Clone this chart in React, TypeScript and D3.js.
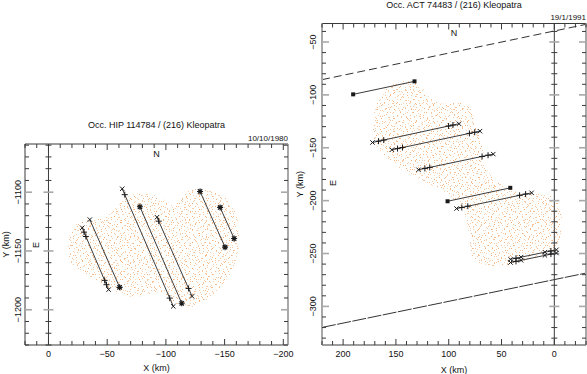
import React from "react";
import * as d3 from "d3";

const W = 587;
const H = 374;

// ---------- Left panel (1980) ----------
const leftTitle = "Occ. HIP 114784 / (216) Kleopatra";
const leftDate = "10/10/1980";
const leftXDomain = [20, -204];
const leftYDomain = [-1230, -1059];
const leftXTicks = [0, -50, -100, -150, -200];
const leftYTicks = [-1100, -1150, -1200];
const leftShapeX = [-16.7, -21, -32.4, -46.6, -58, -66.6, -77.9, -92.2, -103.5, -106.3, -114.8, -126.3, -137.6, -149, -157.5, -161.8, -161.8, -157.5, -149, -137.6, -126.3, -114.8, -106.3, -97.5, -86.4, -80.7, -66.6, -55.1, -41, -26.7, -18.2];
const leftShapeY = [-1148.2, -1129.8, -1124.1, -1121.3, -1112.8, -1104.3, -1100.9, -1102.8, -1109.9, -1112.8, -1101.4, -1097.1, -1098.6, -1102.8, -1112.8, -1126.9, -1146.8, -1163.9, -1178, -1189.4, -1196.5, -1198, -1195.1, -1185.4, -1186.3, -1188, -1188.8, -1183.7, -1175.2, -1166.7, -1158.2];
const leftChords = [
  { x1: -28.7, y1: -1130.3, x2: -51.2, y2: -1182.9, marks: [[0, "x"], [0.07, "+"], [0.14, "+"], [0.85, "+"], [0.92, "+"], [1, "x"]] },
  { x1: -35.2, y1: -1123.3, x2: -60.6, y2: -1180.9, marks: [[0, "x"], [1, "*"]] },
  { x1: -62.8, y1: -1097.1, x2: -106.3, y2: -1197.1, marks: [[0, "x"], [0.05, "+"], [0.93, "+"], [1, "x"]] },
  { x1: -77.9, y1: -1112.4, x2: -113.5, y2: -1194.5, marks: [[0, "*"], [1, "*"]] },
  { x1: -92.4, y1: -1121.3, x2: -122.3, y2: -1188.6, marks: [[0, "x"], [0.05, "+"], [0.9, "+"], [1, "x"]] },
  { x1: -129.1, y1: -1099.4, x2: -150.4, y2: -1146.8, marks: [[0, "*"], [1, "*"]] },
  { x1: -146.2, y1: -1113, x2: -158.1, y2: -1139.4, marks: [[0, "*"], [1, "*"]] },
];

// ---------- Right panel (1991) ----------
const rightTitle = "Occ. ACT 74483 / (216) Kleopatra";
const rightDate = "19/1/1991";
const rightXDomain = [220, -30];
const rightYDomain = [-336.5, -32.5];
const rightXTicks = [200, 150, 100, 50, 0];
const rightYTicks = [-50, -100, -150, -200, -250, -300];
const rightShapeX = [134.6, 146.9, 159.5, 169, 171.6, 169, 156.4, 137.4, 118.5, 102.7, 90, 83.7, 80.6, 77.4, 68, 49, 17.3, -1.6, -7.3, -4.7, 4.7, 23.7, 39.5, 55.3, 64.7, 67.9, 74.2, 80.6, 90, 105.9, 118.5, 128];
const rightShapeY = [-86.3, -88.2, -93.8, -111.6, -133.6, -146.2, -162, -174.6, -184.1, -193.6, -203, -215.7, -234.7, -253.6, -259.8, -261.5, -253.6, -244.1, -218.8, -203, -195.2, -193.6, -190.4, -181, -168.4, -149.4, -127.3, -111.6, -106.8, -108.3, -102.1, -89.4];
const rightChords = [
  { x1: 190.5, y1: -99.5, x2: 132.4, y2: -87.2, marks: [[0, "s"], [1, "s"]] },
  { x1: 172.2, y1: -145, x2: 90.3, y2: -127.3, marks: [[0, "x"], [0.07, "+"], [0.13, "+"], [0.88, "+"], [0.93, "+"], [1, "x"]] },
  { x1: 153.8, y1: -151.9, x2: 70.4, y2: -134.3, marks: [[0, "x"], [0.064, "+"], [0.12, "+"], [0.88, "+"], [0.94, "+"], [1, "x"]] },
  { x1: 128.6, y1: -170.8, x2: 57.8, y2: -156, marks: [[0, "x"], [0.085, "+"], [0.15, "+"], [0.85, "+"], [0.93, "+"], [1, "x"]] },
  { x1: 101.1, y1: -200.6, x2: 41.7, y2: -187.9, marks: [[0, "s"], [1, "s"]] },
  { x1: 92.6, y1: -207.5, x2: 21.5, y2: -192.6, marks: [[0, "x"], [0.07, "+"], [0.15, "+"], [0.84, "+"], [0.92, "+"], [1, "x"]] },
  { x1: 41.5, y1: -255.5, x2: -2, y2: -246.5, marks: [[0, "x"], [0.12, "+"], [0.23, "x"], [0.75, "x"], [0.88, "+"], [1, "x"]] },
  { x1: 41.5, y1: -258.5, x2: -2, y2: -249.5, marks: [[0, "x"], [0.12, "+"], [0.23, "x"], [0.75, "x"], [0.88, "+"], [1, "x"]] },
];
const rightLimitLines = [
  { x1: 220, y1: -85.6, x2: -30, y2: -33.3, dash: "8,4" },
  { x1: 220, y1: -319.9, x2: -30, y2: -268.5, dash: "14,1.5" },
];

const FONT = "Liberation Sans, Arial, sans-serif";
const DOT = "#f4a05c";
const INK = "#111";

// texture tiles (style only)
const tileA = [[0, 3, 0.7], [2, 9, 0.5], [4, 1, 0.8], [5, 6, 0.45], [7, 11, 0.7], [8, 4, 0.55], [10, 8, 0.8], [11, 0, 0.5], [12, 5, 0.65], [3, 12, 0.55]];
const tileB = [[1, 1, 0.6], [3, 7, 0.75], [6, 14, 0.5], [8, 2, 0.7], [9, 9, 0.45], [12, 12, 0.7], [14, 5, 0.55], [15, 15, 0.6], [2, 16, 0.7], [11, 7, 0.5], [16, 10, 0.65], [5, 4, 0.5]];
const tileC = [[2, 2, 0.6], [6, 13, 0.7], [9, 5, 0.5], [13, 17, 0.65], [16, 8, 0.7], [4, 8, 0.5], [11, 11, 0.6], [17, 1, 0.55], [0, 15, 0.6], [14, 14, 0.5]];

function Marker({ x, y, type }: { x: number; y: number; type: string }) {
  const s = 2.2;
  if (type === "s") return <rect x={x - 2} y={y - 2} width={4} height={4} fill="#1a1a1a" />;
  let d = "";
  if (type === "x" || type === "*") d += `M${x - s},${y - s}L${x + s},${y + s}M${x - s},${y + s}L${x + s},${y - s}`;
  if (type === "+" || type === "*") d += `M${x - 3},${y}L${x + 3},${y}M${x},${y - 3}L${x},${y + 3}`;
  return <path d={d} stroke="#1a1a1a" strokeWidth={type === "*" ? 1.2 : 1} fill="none" />;
}

function Panel(props: any) {
  const { xDomain, yDomain, box, xTicks, yTicks, shapeX, shapeY, chords, lines, title, date, titleY, dateY, nY, eX, eY, ylabX, ytickX, greyLeft, greyRight, xlabY, id } = props;
  const x = d3.scaleLinear().domain(xDomain).range([box.l, box.r]);
  const y = d3.scaleLinear().domain(yDomain).range([box.b, box.t]);
  const xMin = Math.min(...xDomain), xMax = Math.max(...xDomain);
  const yMin = Math.min(...yDomain), yMax = Math.max(...yDomain);
  const xMinor = d3.range(Math.ceil(xMin / 10) * 10, xMax + 0.01, 10);
  const yMinor = d3.range(Math.ceil(yMin / 10) * 10, yMax + 0.01, 10);
  const shape = d3.line<number>().x((_, i) => x(shapeX[i])).y((_, i) => y(shapeY[i])).curve(d3.curveCatmullRomClosed.alpha(0.5));
  const pathD = shape(shapeX) as string;
  const cx = (box.l + box.r) / 2;
  const tick = "#3a3a3a";
  const grey = "#a8a8a8";
  const isMajor = (v: number) => Math.abs(v % 50) < 1e-6;
  return (
    <g>
      <defs>
        <clipPath id={`clip-${id}`}>
          <rect x={box.l} y={box.t} width={box.r - box.l} height={box.b - box.t} />
        </clipPath>
      </defs>
      <g clipPath={`url(#clip-${id})`}>
        <path d={pathD} fill="url(#dotsA)" />
        <path d={pathD} fill="url(#dotsB)" />
        <path d={pathD} fill="url(#dotsC)" />
        {lines &&
          lines.map((l: any, i: number) => (
            <line key={i} x1={x(l.x1)} y1={y(l.y1)} x2={x(l.x2)} y2={y(l.y2)} stroke="#333" strokeWidth={1} strokeDasharray={l.dash} />
          ))}
      </g>
      {/* frame */}
      <line x1={box.l} x2={box.r} y1={box.t} y2={box.t} stroke={tick} />
      <line x1={box.l} x2={box.r} y1={box.b} y2={box.b} stroke={tick} />
      <line x1={box.l} x2={box.l} y1={box.t} y2={box.b} stroke={greyLeft ? grey : tick} strokeWidth={greyLeft ? 2 : 1} />
      <line x1={box.r} x2={box.r} y1={box.t} y2={box.b} stroke={greyRight ? grey : tick} strokeWidth={greyRight ? 2 : 1} />
      {/* x = 0 line */}
      <line x1={x(0)} x2={x(0)} y1={box.t} y2={box.b} stroke={tick} />
      {xMinor.map((v) => {
        const m = isMajor(v);
        const L = m ? 6 : 4;
        return (
          <g key={`xt${v}`}>
            <line x1={x(v)} x2={x(v)} y1={box.t} y2={box.t + L} stroke={tick} />
            <line x1={x(v)} x2={x(v)} y1={box.b} y2={box.b - L} stroke={tick} />
          </g>
        );
      })}
      {yMinor.map((v) => {
        const m = isMajor(v);
        const L = m ? 7 : 4;
        const c = m ? grey : tick;
        const w = m ? 1.6 : 1;
        return (
          <g key={`yt${v}`}>
            <line x1={box.l} x2={box.l + L} y1={y(v)} y2={y(v)} stroke={c} strokeWidth={w} />
            <line x1={box.r} x2={box.r - L} y1={y(v)} y2={y(v)} stroke={c} strokeWidth={w} />
            <line x1={x(0) - (m ? 5 : 3)} x2={x(0) + (m ? 5 : 3)} y1={y(v)} y2={y(v)} stroke={m ? grey : tick} strokeWidth={w} />
          </g>
        );
      })}
      {/* chords */}
      {chords.map((c: any, i: number) => (
        <g key={`c${i}`}>
          <line x1={x(c.x1)} y1={y(c.y1)} x2={x(c.x2)} y2={y(c.y2)} stroke="#3c3c3c" strokeWidth={1} />
          {c.marks.map((m: any, j: number) => {
            const t = m[0];
            const px = x(c.x1 + (c.x2 - c.x1) * t);
            const py = y(c.y1 + (c.y2 - c.y1) * t);
            return <Marker key={j} x={px} y={py} type={m[1]} />;
          })}
        </g>
      ))}
      {/* texts */}
      <text x={cx} y={titleY} textAnchor="middle" fontSize={9} fontFamily={FONT} fill={INK}>{title}</text>
      <text x={box.r} y={dateY} textAnchor="end" fontSize={8} fontFamily={FONT} fill={INK}>{date}</text>
      <text x={cx} y={nY} textAnchor="middle" fontSize={9} fontFamily={FONT} fill={INK}>N</text>
      <text transform={`translate(${eX},${eY}) rotate(-90)`} textAnchor="middle" fontSize={9} fontFamily={FONT} fill={INK}>E</text>
      {xTicks.map((v: number) => (
        <text key={`xl${v}`} x={x(v)} y={box.b + 12} textAnchor="middle" fontSize={9} fontFamily={FONT} fill={INK}>
          {v < 0 ? `\u2212${-v}` : `${v}`}
        </text>
      ))}
      {yTicks.map((v: number) => (
        <text key={`yl${v}`} transform={`translate(${ytickX},${y(v)}) rotate(-90)`} textAnchor="middle" fontSize={9} fontFamily={FONT} fill={INK}>
          {v < 0 ? `\u2212${-v}` : `${v}`}
        </text>
      ))}
      <text x={cx} y={xlabY} textAnchor="middle" fontSize={9} fontFamily={FONT} fill={INK}>X (km)</text>
      <text transform={`translate(${ylabX},${(box.t + box.b) / 2}) rotate(-90)`} textAnchor="middle" fontSize={9} fontFamily={FONT} fill={INK}>Y (km)</text>
    </g>
  );
}

export default function App() {
  return (
    <svg width={W} height={H} style={{ position: "absolute", left: 0, top: 0, background: "#fff" }}>
      <defs>
        <pattern id="dotsA" width={13} height={13} patternUnits="userSpaceOnUse">
          {tileA.map((p, i) => (
            <rect key={i} x={p[0]} y={p[1]} width={1} height={1} fill={DOT} opacity={p[2]} />
          ))}
        </pattern>
        <pattern id="dotsB" width={17} height={17} patternUnits="userSpaceOnUse">
          {tileB.map((p, i) => (
            <rect key={i} x={p[0]} y={p[1]} width={1} height={1} fill={DOT} opacity={p[2]} />
          ))}
        </pattern>
        <pattern id="dotsC" width={19} height={19} patternUnits="userSpaceOnUse">
          {tileC.map((p, i) => (
            <rect key={i} x={p[0]} y={p[1]} width={1} height={1} fill={DOT} opacity={p[2]} />
          ))}
        </pattern>
      </defs>
      <rect width={W} height={H} fill="#fff" />
      <Panel
        id="L"
        xDomain={leftXDomain}
        yDomain={leftYDomain}
        box={{ l: 25, r: 288, t: 144, b: 345 }}
        xTicks={leftXTicks}
        yTicks={leftYTicks}
        shapeX={leftShapeX}
        shapeY={leftShapeY}
        chords={leftChords}
        title={leftTitle}
        date={leftDate}
        titleY={128}
        dateY={141}
        nY={157}
        eX={39}
        eY={245}
        ylabX={9}
        ytickX={21}
        xlabY={371}
        greyLeft={false}
        greyRight={true}
      />
      <Panel
        id="R"
        xDomain={rightXDomain}
        yDomain={rightYDomain}
        box={{ l: 322, r: 586, t: 23.5, b: 345 }}
        xTicks={rightXTicks}
        yTicks={rightYTicks}
        shapeX={rightShapeX}
        shapeY={rightShapeY}
        chords={rightChords}
        lines={rightLimitLines}
        title={rightTitle}
        date={rightDate}
        titleY={8}
        dateY={20}
        nY={36}
        eX={336}
        eY={183}
        ylabX={303}
        ytickX={316}
        xlabY={373}
        greyLeft={true}
        greyRight={true}
      />
    </svg>
  );
}
